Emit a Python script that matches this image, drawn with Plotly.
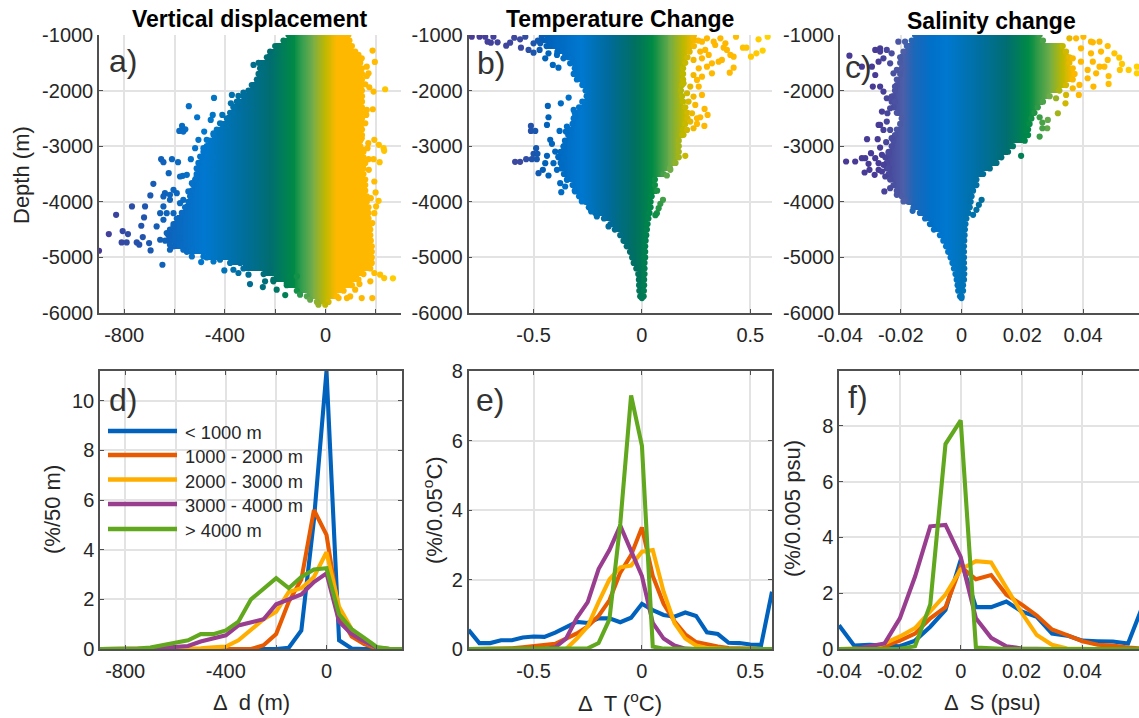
import numpy as np
import plotly.graph_objects as go

W, H = 1139, 718

# ---------- top row: envelope of the dense cloud, read every 100 m ----------
depth_a = list(range(-1000, -5900, -100))
left_a = [-147,-167,-200,-220,-233,-266,-246,-266,-273,-293,-306,-326,-352,-366,-379,-392,-412,-432,-445,-459,-472,-485,-492,-505,-512,-512,-518,-525,-531,-538,-545,-558,-571,-591,-604,-618,-624,-637,-604,-551,-472,-379,-326,-246,-207,-154,-114,-74,-34]
right_a = [91,95,105,118,131,138,145,145,145,145,145,145,145,145,145,145,145,145,145,138,138,151,151,158,151,151,158,158,158,164,164,171,171,171,178,178,178,180,184,184,184,184,178,151,131,105,72,45,12]

out_a_x = [187,196,237,191,188,171,164,158,174,162,194,170,212,231,233,167,215,172,194,199,159,180,211,201,194,186,194,217,233,268,178,135,118,144,186,98,85,
           -286,-260,-326,-282,-372,-443,-376,-346,-543,-510,-448,-410,-456,-570,-557,-581,-565,-482,-505,-518,-653,-644,-610,-586,-535,-623,-567,-684,-696,-769,-717,-832,-721,-732,-861,-806,-785,-810,-790,-726,-750,-740,-701,-900,-695,-648,-618,-644,-657,-618,-638,-591,-565,-671,-494,-402,-300,-249,-194,-160,-240,-207,-154,-346,-531,-101,-61,-28,-1,52,
           -498,-465,-445,-485,-445,-512,-551,-578,-531,-604,-618,-644,-578,-545,-631,-604,-644,-604,-578,-631,-578,-657,-618,-565,-531,-485,-445,-419,-339,-366,-306,-220,-194,-140,-140,-114,
           -445,-419,-392,-366,-339,-313,-419,-472,-485,164,158,144,151,191,171,164,144,131]
out_a_y = [-1281,-1485,-1976,-2018,-2335,-1689,-1737,-1886,-1940,-2437,-2886,-2946,-2976,-3036,-3084,-3036,-3287,-3425,-3635,-3832,-3934,-3934,-3982,-4084,-4204,-4383,-5281,-5311,-5371,-5377,-5431,-5479,-5581,-5731,-5731,-5701,-5731,
           -1539,-1599,-2036,-1940,-2078,-2132,-2228,-2096,-2281,-2479,-2437,-2437,-2527,-2635,-2695,-2725,-2737,-2737,-2886,-3036,-3233,-3287,-3233,-3287,-3233,-3485,-3533,-3677,-3886,-4084,-4084,-4234,-4281,-4431,-4581,-4527,-4581,-4731,-4731,-4635,-4731,-4772,-4743,-4880,-4874,-5132,-4862,-4084,-4204,-3964,-3844,-3844,-3964,-4443,-5084,-5234,-5479,-5533,-5581,-5677,-5431,-5431,-5461,-5281,-4982,-5671,-5761,-5851,-5851,-5731,
           -3186,-3305,-3186,-3365,-3425,-3545,-3515,-3545,-3665,-3784,-3874,-3904,-4024,-3814,-4204,-4204,-4323,-4443,-4353,-4563,-4653,-4683,-4772,-4862,-4862,-4982,-5072,-5042,-5102,-5222,-5311,-5251,-5311,-5341,-5461,-5341,
           -2767,-2587,-2647,-2407,-2317,-2287,-2767,-2886,-3036,-2347,-2587,-2856,-3066,-3233,-3233,-1569,-1419,-1359]

depth_b = list(range(-1000, -5800, -100))
left_b = [-.44,-.48,-.44,-.39,-.34,-.315,-.31,-.315,-.30,-.275,-.26,-.255,-.275,-.29,-.31,-.315,-.32,-.33,-.34,-.355,-.36,-.375,-.385,-.375,-.37,-.36,-.345,-.32,-.31,-.29,-.26,-.245,-.215,-.175,-.145,-.125,-.10,-.085,-.07,-.055,-.045,-.038,-.026,-.017,-.014,-.013,-.012,-.008]
right_b = [.24,.26,.24,.22,.21,.2,.19,.19,.19,.185,.18,.185,.19,.2,.21,.21,.2,.19,.185,.17,.17,.17,.17,.155,.13,.1,.06,.06,.07,.045,.04,.04,.035,.03,.026,.023,.02,.017,.015,.015,.015,.012,.012,.012,.01,.01,.009,.008]

out_b_x = [-.785,-.749,-.723,-.685,-.712,-.697,-.666,-.626,-.608,-.589,-.562,-.538,-.558,-.523,-.5,-.472,-.446,-.462,-.431,-.411,-.385,-.362,-.331,-.338,-.374,-.434,-.431,-.438,-.512,-.512,-.492,-.38,-.351,-.423,-.415,-.488,-.5,-.482,-.585,-.562,-.534,-.508,-.485,-.438,-.4,-.446,-.408,-.457,-.477,-.431,-.392,-.372,-.377,-.234,-.277,
           .58,.538,.557,.528,.503,.466,.482,.434,.423,.423,.405,.392,.377,.369,.354,.338,.3,.331,.323,.3,.292,.277,.277,.289,.303,.269,.288,.254,.2,.115,.131,.097,.085,.077,.069,.062,0,
           .238,.277,.269,.238,.277,.308,.323,.262,.238,.254,.223,.262,.238,.215,.246,.231,.254,.223,.208,.238,.192,.208,.192,.362,.408,.385,
           -.5,-.469,-.392,-.354,-.323,-.3,-.277,-.315,-.308,-.346,-.331,-.362,-.385,-.362,-.346,-.354,-.308,-.277,-.238,-.208,-.154]
out_b_y = [-1030,-1030,-1030,-1030,-1120,-1138,-1132,-1192,-1138,-1048,-1078,-1030,-1228,-1269,-1317,-1269,-1419,-1030,-1329,-1539,-1587,-1419,-1509,-2126,-2228,-2275,-2479,-2617,-2635,-2725,-2725,-2725,-2737,-2886,-2958,-3036,-3138,-3138,-3281,-3281,-3233,-3233,-3233,-3174,-3096,-3305,-3305,-3425,-3485,-3527,-3425,-3826,-3665,-4174,-3994,
           -1030,-1078,-1281,-1329,-1389,-1228,-1228,-1030,-1389,-1587,-1677,-1269,-1228,-1449,-1479,-1180,-1060,-1120,-1689,-1569,-1269,-1749,-2078,-2329,-2437,-2479,-2635,-2599,-3174,-3527,-3425,-3964,-4036,-4114,-4204,-4240,-5731,
           -1060,-1120,-1299,-1449,-1419,-1359,-1509,-1599,-1719,-1808,-1928,-1928,-2108,-2198,-2257,-2407,-2497,-2557,-2707,-2677,-2796,-2048,-1868,-1060,-1359,-1150,
           -1150,-1150,-1359,-1359,-1419,-1719,-1808,-2347,-2467,-2647,-2826,-3006,-3186,-3216,-3605,-3725,-3814,-3964,-4114,-4263,-4443]

depth_c = list(range(-1000, -5800, -100))
left_c = [-.0153,-.0164,-.018,-.0191,-.0202,-.0202,-.0197,-.0202,-.0213,-.0213,-.0219,-.0224,-.023,-.0224,-.0213,-.0197,-.0202,-.0213,-.0219,-.0224,-.023,-.024,-.0251,-.0246,-.0246,-.024,-.0235,-.0224,-.0213,-.0197,-.0175,-.0158,-.0137,-.012,-.0104,-.0091,-.0071,-.006,-.0051,-.0044,-.0036,-.003,-.0025,-.002,-.0016,-.0013,-.0011,-.0005]
right_c = [.0257,.0268,.0333,.0344,.0355,.0355,.0366,.0372,.0366,.0344,.0322,.029,.0268,.0251,.024,.023,.0224,.0219,.0219,.0208,.0169,.0153,.0131,.0115,.0093,.0071,.0049,.0049,.0038,.0033,.003,.0027,.0022,.0016,.0013,.0011,.001,.0009,.0008,.0008,.0008,.0008,.0009,.0009,.0008,.0005,.0005,0]

out_c_x = [-.038,-.035,-.0328,-.0317,-.0306,-.0319,-.0303,-.0286,-.0298,-.0311,-.0276,-.0268,-.0284,-.0273,-.0262,-.0248,-.0254,-.0268,-.0257,-.0244,-.0262,-.0273,-.0292,-.0268,-.0257,-.0246,-.0369,-.0328,-.0295,-.0284,-.0273,-.0284,-.0268,-.0246,-.023,-.0235,-.0224,-.0208,-.0186,-.0186,-.0161,
           .0577,.0577,.055,.0521,.0528,.0519,.0503,.0481,.0454,.0432,.0401,.0481,.0484,.0484,.0434,.047,.0443,.0426,.0386,.0342,.0317,.0257,.0284,.0266,.0282,.0266,.0257,.0196,.0213,.0066,.0057,.0049,.0038,0,
           .0355,.0377,.0393,.0426,.0366,.0393,.0415,.0432,.0454,.0415,.0388,.0366,.0344,.0311,.0459,
           -.0268,-.0257,-.0213,-.0219,-.023,-.0219,-.0235,-.0246,-.0235,-.023,-.024,-.0262,-.0273,-.0257,-.024,-.0251,-.0235,-.0213,-.0191]
out_c_y = [-3275,-3275,-3216,-3216,-3317,-3473,-3425,-3515,-3126,-2874,-2874,-3024,-3216,-3425,-3455,-2928,-3814,-2617,-2707,-2407,-2377,-2617,-1928,-1928,-2018,-2138,-1371,-1569,-1569,-1719,-1479,-1269,-1240,-1269,-1329,-1509,-1689,-1120,-1120,-3964,-4162,
           -1569,-1689,-1629,-1629,-1521,-1407,-1329,-1198,-1120,-1132,-1030,-1449,-1737,-1880,-1928,-1569,-1689,-1329,-2078,-2228,-2407,-2479,-2527,-2575,-2677,-2677,-2826,-3174,-2737,-3964,-4054,-4144,-4234,-5731,
           -1060,-1060,-1240,-1120,-1419,-1479,-1629,-1479,-1569,-1778,-1898,-1958,-2078,-2138,-1299,
           -1299,-1419,-1629,-1928,-2108,-2198,-2317,-2557,-2707,-2856,-3126,-3156,-3305,-3335,-3395,-3545,-3755,-3874,-3994]

# colour stops: value -> colour
stops_a = [(-900,"#4a3a96"),(-650,"#1060b8"),(-480,"#0078d0"),(-320,"#006e9a"),(-220,"#006e70"),(-125,"#008a45"),(-90,"#3aa050"),(-50,"#76ad4a"),(0,"#c2b800"),(45,"#ffb800"),(180,"#ffb800"),(300,"#ffd600")]
stops_b = [(-.8,"#4a3a96"),(-.55,"#3b4aa0"),(-.45,"#0060b8"),(-.28,"#0078d0"),(-.15,"#006a9a"),(-.03,"#007060"),(.05,"#008a45"),(.13,"#6fad4a"),(.19,"#bcb800"),(.25,"#ffb800"),(.4,"#ffb800"),(.6,"#ffd600")]
stops_c = [(-.04,"#4a3a96"),(-.027,"#473b96"),(-.019,"#4c5fa8"),(-.016,"#1f66b8"),(-.01,"#0070c8"),(-.005,"#0078d0"),(.006,"#006fa0"),(.015,"#006e70"),(.022,"#008a45"),(.029,"#6fad4a"),(.033,"#bcb800"),(.037,"#ffb800"),(.045,"#ffb800"),(.06,"#ffd600")]

# ---------- bottom row: histograms ----------
names = ["< 1000 m", "1000 - 2000 m", "2000 - 3000 m", "3000 - 4000 m", "> 4000 m"]
line_colors = ["#0062bd", "#e85a00", "#ffae00", "#993d8f", "#62a81f"]

bins_d = list(range(-900, 350, 50))
hist_d = [
 [0,0,0,0,0,0,0,0,0,0,0,0,0,0,0,.05,.75,5.2,11.2,.35,.02,0,0,0,0],
 [0,0,0,0,0,0,0,0,0,0,0,0,0,.15,.6,1.9,2.8,5.6,4.6,1.4,.5,.2,.02,0,0],
 [0,0,0,0,0,0,0,0,.03,.07,.1,.35,.75,1.2,1.5,2.3,2.45,2.9,3.9,1.7,.8,.3,.05,0,0],
 [0,0,0,0,.02,.05,.1,.12,.3,.42,.55,.95,1.08,1.2,1.8,2.0,2.2,2.7,3.05,1.1,.6,.3,.05,0,0],
 [0,0,0,.02,.06,.15,.25,.35,.6,.6,.75,1.1,2.0,2.4,2.85,2.45,2.9,3.2,3.25,1.4,.8,.45,.08,.01,0],
]
bins_e = [round(-.8 + .05*i, 2) for i in range(29)]
hist_e = [
 [.55,.17,.17,.25,.25,.33,.36,.35,.47,.63,.78,.75,.88,.88,.77,.9,1.3,1.12,.98,.93,1.05,.95,.48,.43,.18,.17,.13,.12,1.65],
 [0,0,0,0,.02,.05,.08,.1,.15,.3,.45,.65,.95,1.4,2.2,2.7,3.5,2.1,1.3,.8,.42,.2,.12,.07,.03,.01,.01,0,0],
 [0,0,0,0,0,0,0,0,0,0,.3,.65,1.35,2.0,2.35,2.4,2.8,2.85,1.65,.75,.3,.1,.03,.01,0,0,0,0,0],
 [0,0,0,0,0,0,0,0,.05,.3,.9,1.35,2.3,2.85,3.55,2.85,2.1,.75,.3,.1,.01,0,0,0,0,0,0,0,0],
 [0,0,0,0,0,0,0,0,0,0,0,.02,.17,.85,3.6,7.3,5.85,.07,.01,0,0,0,0,0,0,0,0,0,0],
]
bins_f = [round(-.04 + .005*i, 3) for i in range(21)]
hist_f = [
 [.85,.12,.15,.12,.1,.3,.8,1.4,3.2,1.5,1.5,1.7,1.35,1.15,.55,.48,.3,.28,.27,.2,1.6],
 [0,0,.02,.1,.3,.55,1.1,1.5,2.95,2.5,2.65,1.95,1.6,1.2,.7,.5,.28,.15,.12,.05,.02],
 [0,0,.02,.2,.45,.75,1.35,1.95,2.85,3.15,3.1,2.2,1.3,.5,.15,.02,0,0,0,0,0],
 [0,0,.1,.2,1.1,2.6,4.4,4.45,3.3,1.1,.4,.1,.02,0,0,0,0,0,0,0,0],
 [0,0,0,0,.01,.1,1.6,7.35,8.2,.05,.01,0,0,0,0,0,0,0,0,0,0],
]

INK = "#262626"
GRID = "#e3e3e3"
FRAME = "#505050"
FONT = "Liberation Sans"

def scale(stops):
    lo, hi = stops[0][0], stops[-1][0]
    return [[(v - lo) / (hi - lo), c] for v, c in stops], lo, hi

fig = go.Figure()

def cloud(n, depth, left, right, out_x, out_y, stops, xr):
    cs, lo, hi = scale(stops)
    xs = np.linspace(xr[0], xr[1], 320)
    d = np.array(depth, float)
    l = np.array(left, float)[:, None]
    r = np.array(right, float)[:, None]
    z = np.where((xs >= l) & (xs <= r), xs, np.nan)
    ax = dict(xaxis=f"x{n}", yaxis=f"y{n}")
    fig.add_trace(go.Heatmap(x=xs, y=d, z=z, colorscale=cs, zmin=lo, zmax=hi,
                             showscale=False, hoverinfo="skip", **ax))
    px = list(left) + list(right) + list(out_x)
    py = list(depth) + list(depth) + list(out_y)
    fig.add_trace(go.Scatter(x=px, y=py, mode="markers", showlegend=False, hoverinfo="skip",
                             marker=dict(size=6.2, color=px, colorscale=cs, cmin=lo, cmax=hi,
                                         line=dict(width=0)), **ax))

def hist(n, bins, series):
    for s, name, c in zip(series, names, line_colors):
        fig.add_trace(go.Scatter(x=bins, y=s, mode="lines", name=name, showlegend=False,
                                 line=dict(color=c, width=4.1), cliponaxis=False,
                                 hoverinfo="skip", xaxis=f"x{n}", yaxis=f"y{n}"))

cloud(1, depth_a, left_a, right_a, out_a_x, out_a_y, stops_a, (-900, 300))
cloud(2, depth_b, left_b, right_b, out_b_x, out_b_y, stops_b, (-.8, .6))
cloud(3, depth_c, left_c, right_c, out_c_x, out_c_y, stops_c, (-.04, .0584))
hist(4, bins_d, hist_d)
hist(5, bins_e, hist_e)
hist(6, bins_f, hist_f)

def axis_common():
    return dict(showline=True, linecolor=FRAME, linewidth=1.5, ticks="inside", ticklen=4,
                tickcolor=FRAME, tickwidth=1.2, showgrid=True, gridcolor=GRID, gridwidth=1.5,
                zeroline=False, tickfont=dict(family=FONT, size=20, color=INK), layer="above traces",
                automargin=False)

def set_axes(n, xpx, ypx, xr, yr, xt, xl, yt, yl, box, mirror_y=True, xminor=None):
    x = axis_common(); y = axis_common()
    x.update(domain=[xpx[0]/W, xpx[1]/W], range=list(xr), tickmode="array", tickvals=xt, ticktext=xl,
             anchor=f"y{n}", ticklabelstandoff=3)
    y.update(domain=[1-ypx[1]/H, 1-ypx[0]/H], range=list(yr), tickmode="array", tickvals=yt, ticktext=yl,
             anchor=f"x{n}")
    if xminor:
        x["minor"] = dict(tickmode="array", tickvals=xminor, ticks="inside", ticklen=4, tickcolor=FRAME,
                          tickwidth=1.2, showgrid=True, gridcolor=GRID, gridwidth=1.5)
    if box:
        x["mirror"] = "ticks"
        if mirror_y:
            y["mirror"] = "ticks"
    fig.layout[f"xaxis{n}"] = x
    fig.layout[f"yaxis{n}"] = y

depth_ticks = [-6000,-5000,-4000,-3000,-2000,-1000]
depth_labels = [str(v) for v in depth_ticks]
dt = [-800,-400,0]; dl = ["-800","-400","0"]; dm = [-600,-200,200]
tt = [-.5,0,.5]; tl = ["-0.5","0","0.5"]
st = [-.04,-.02,0,.02,.04]; sl = ["-0.04","-0.02","0","0.02","0.04"]

TOP = (35, 313); BOT = (371, 649)
set_axes(1, (99,401), TOP, (-900,300), (-6000,-1000), dt, dl, depth_ticks, depth_labels, False, xminor=dm)
set_axes(2, (468.5,772), TOP, (-.8,.6), (-6000,-1000), tt, tl, depth_ticks, depth_labels, False)
set_axes(3, (840,1139), TOP, (-.04,.0584), (-6000,-1000), st, sl, depth_ticks, depth_labels, False)
set_axes(4, (100,402), BOT, (-900,300), (0,11.2), dt, dl, [0,2,4,6,8,10], ["0","2","4","6","8","10"], True, xminor=dm)
set_axes(5, (468.5,772), BOT, (-.8,.6), (0,8), tt, tl, [0,2,4,6,8], ["0","2","4","6","8"], True)
set_axes(6, (839,1139), BOT, (-.04,.0586), (0,9.97), st, sl, [0,2,4,6,8], ["0","2","4","6","8"], True, mirror_y=False)

def note(text, x, y, size, color=INK, bold=False, angle=0, align="center"):
    fig.add_annotation(text=f"<b>{text}</b>" if bold else text, x=x/W, y=1-y/H, xref="paper", yref="paper",
                       showarrow=False, textangle=angle, xanchor=align, yanchor="middle",
                       font=dict(family=FONT, size=size, color=color))

note("Vertical displacement", 250, 19, 23, "#000000", True)
note("Temperature Change", 620, 19, 23, "#000000", True)
note("Salinity change", 991, 21, 23, "#000000", True)
for label, x, y in [("a)",107,61),("b)",475,63),("c)",843,67),("d)",107,400),("e)",474,400),("f)",846,397)]:
    note(label, x, y, 32, "#333333", align="left")
note("Depth (m)", 21, 175, 22, angle=-90)
note("(%/50 m)", 53, 509, 22, angle=-90)
note("(%/0.05<sup>o</sup>C)", 433, 510, 22, angle=-90)
note("(%/0.005 psu)", 793, 509, 22, angle=-90)
note("Δ  d (m)", 251, 702, 22)
note("Δ  T (<sup>o</sup>C)", 620, 702, 22)
note("Δ  S (psu)", 992, 702, 22)

# legend of panel d, with its long line samples and tight rows
legend_rows = [431, 455, 479.5, 504, 529]
shapes = []
for name, c, yy in zip(names, line_colors, legend_rows):
    shapes.append(dict(type="line", xref="paper", yref="paper", x0=108/W, x1=177/W, y0=1-yy/H, y1=1-yy/H,
                       line=dict(color=c, width=4.4), layer="above"))
    note(name, 183, yy+1.5, 18.3, align="left")

fig.update_layout(width=W, height=H, margin=dict(l=0, r=0, t=0, b=0, pad=0, autoexpand=False),
                  plot_bgcolor="white", paper_bgcolor="white", showlegend=False, shapes=shapes)

fig.write_html("out.html", config={"displayModeBar": False},
               post_script="document.body.style.margin='0';document.body.style.overflow='hidden';")
